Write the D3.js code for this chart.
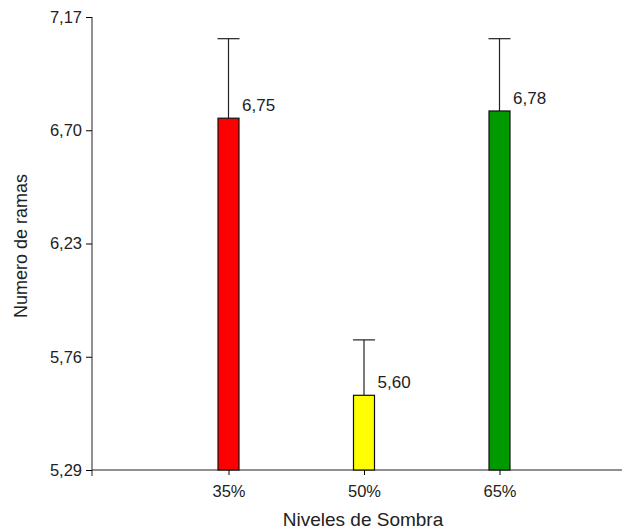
<!DOCTYPE html>
<html>
<head>
<meta charset="utf-8">
<script src="https://d3js.org/d3.v7.min.js"></script>
<style>
  body { margin: 0; background: #fff; }
  text { font-family: "Liberation Sans", Arial, sans-serif; fill: #222; }
</style>
</head>
<body>
<svg id="chart" width="627" height="531"></svg>
<script>
// data
const categories = ["35%", "50%", "65%"];
const values = [6.75, 5.60, 6.78];
const errors = [0.33, 0.23, 0.30];
const colors = ["#ff0000", "#ffff00", "#009900"];
const yTicks = [5.29, 5.76, 6.23, 6.70, 7.17];

const svg = d3.select("#chart");
const fmt = v => d3.format(".2f")(v).replace(".", ",");

const x = d3.scalePoint().domain(categories).range([228.5, 499.5]);
const y = d3.scaleLinear().domain([5.29, 7.17]).range([470, 17]);
const barW = 21;

// y axis
const yAxis = svg.append("g")
  .attr("transform", "translate(92,0)")
  .call(d3.axisLeft(y).tickValues(yTicks).tickFormat(fmt).tickSizeOuter(0).tickSize(6).tickPadding(4));
yAxis.select(".domain").attr("stroke", "#222").attr("d", "M0,17V476");
yAxis.selectAll("text").style("font-size", "16.5px");

// x axis
const xAxis = svg.append("g")
  .attr("transform", "translate(0,470)")
  .call(d3.axisBottom(x).tickSizeOuter(0).tickSize(5).tickPadding(10));
xAxis.select(".domain").attr("stroke", "#222").attr("d", "M92,0H622");
xAxis.selectAll("text").style("font-size", "16.5px");

// error bars
const eb = svg.append("g").attr("stroke", "#222").attr("stroke-width", 1.2);
categories.forEach((c, i) => {
  eb.append("line").attr("x1", x(c)).attr("x2", x(c))
    .attr("y1", y(values[i])).attr("y2", y(values[i] + errors[i]));
  eb.append("line").attr("x1", x(c) - 11).attr("x2", x(c) + 11)
    .attr("y1", y(values[i] + errors[i])).attr("y2", y(values[i] + errors[i]));
});

// bars
svg.append("g").selectAll("rect")
  .data(categories)
  .join("rect")
  .attr("x", d => x(d) - barW / 2)
  .attr("y", (d, i) => y(values[i]))
  .attr("width", barW)
  .attr("height", (d, i) => y(5.29) - y(values[i]))
  .attr("fill", (d, i) => colors[i])
  .attr("stroke", "#111")
  .attr("stroke-width", 1.2);

// value labels
svg.append("g").selectAll("text")
  .data(categories)
  .join("text")
  .attr("x", d => x(d) + 13.5)
  .attr("y", (d, i) => y(values[i]) - 7)
  .style("font-size", "17px")
  .text((d, i) => fmt(values[i]));

// axis titles
svg.append("text")
  .attr("x", 363).attr("y", 526)
  .attr("text-anchor", "middle")
  .style("font-size", "19px")
  .text("Niveles de Sombra");
svg.append("text")
  .attr("transform", "translate(27,246) rotate(-90)")
  .attr("text-anchor", "middle")
  .style("font-size", "18px")
  .text("Numero de ramas");
</script>
</body>
</html>
